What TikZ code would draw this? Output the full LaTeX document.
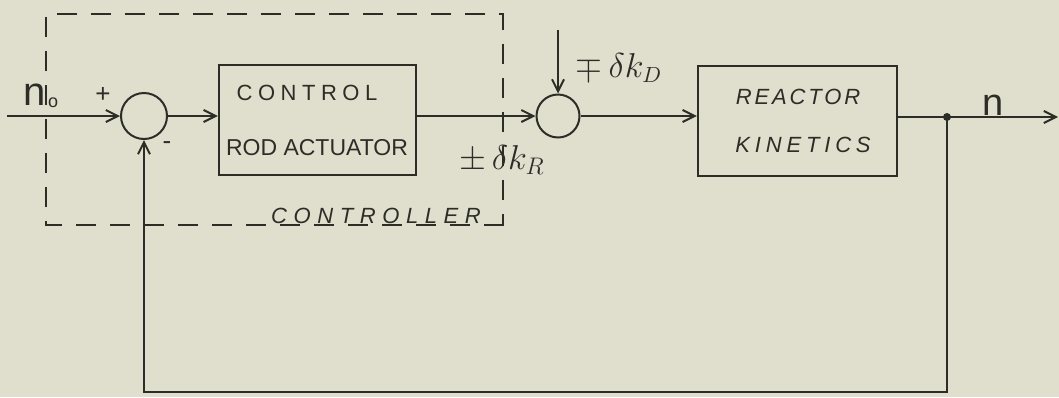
\documentclass[tikz,border=0pt]{standalone}
\usepackage{fontspec}
\setmainfont{Liberation Sans}
\usetikzlibrary{arrows.meta}
\definecolor{paper}{RGB}{224,222,204}
\definecolor{ink}{RGB}{45,45,40}
\tikzset{
  wire/.style={draw=ink, line width=1pt},
  arr/.style={wire, -{Straight Barb[length=6pt,width=6pt,line width=1pt]}},
  sumnode/.style={circle, draw=ink, line width=1pt, inner sep=0pt},
  blk/.style={rectangle, draw=ink, line width=1.2pt, inner sep=0pt},
  lbl/.style={text=ink, inner sep=0pt, font=\fontsize{11}{11}\selectfont},
  ctrlbox/.style={draw=ink, line width=1pt, dash pattern=on 10pt off 7pt},
}
\begin{document}
\begin{tikzpicture}[x=0.5pt,y=-0.5pt]
\fill[paper] (0,0) rectangle (1059,397);
\useasboundingbox (0,0) rectangle (1059,397);

% controller dashed box
\draw[ctrlbox] (494,225) -- (503,225) -- (503,14) -- (46,14) -- (46,225) -- (494,225);
\node[lbl, anchor=base, font=\fontsize{11}{11}\selectfont\itshape\addfontfeature{LetterSpace=30}] (ctl) at (376,223) {CONTROLLER};

% summing junctions and blocks
\node[sumnode, minimum size=23pt] (s1) at (144,116) {};
\node[sumnode, minimum size=21.5pt] (s2) at (558,116) {};
\node[blk, minimum width=98.5pt, minimum height=55pt] (b1) at (317.5,120) {};
\node[blk, minimum width=99.5pt, minimum height=55pt] (b2) at (797.5,121) {};

\node[lbl, font=\fontsize{11}{11}\selectfont\addfontfeature{LetterSpace=25}] (t1) at (307,93) {CONTROL};
\node[lbl, font=\fontsize{11.5}{11.5}\selectfont] (t2) at (317,148) {ROD ACTUATOR};
\node[lbl, font=\fontsize{11}{11}\selectfont\itshape\addfontfeature{LetterSpace=13}] (t3) at (798,97) {REACTOR};
\node[lbl, font=\fontsize{11}{11}\selectfont\itshape\addfontfeature{LetterSpace=22}] (t4) at (803,145) {KINETICS};

% coordinates
\coordinate (in) at (7,116);
\coordinate (j) at (947,117);
\coordinate (out) at (1058,117);
\coordinate (bot) at (947,392);
\coordinate (d) at (558,30);

% connectors
\draw[arr] (in) -- (s1);
\draw[arr] (s1) -- (s1 -| b1.west);
\draw[arr] (b1.east |- s1) -- (s2);
\draw[arr] (s2) -- (s2 -| b2.west);
\draw[wire] (b2.east |- j) -- (j);
\draw[arr] (j) -- (out);
\draw[arr] (j) -- (bot) -- (s1 |- bot) -- (s1);
\draw[arr] (d) -- (s2);
\fill[ink] (j) circle (2pt);

% signal labels
\node[lbl, font=\fontsize{20}{20}\selectfont] (n0) at (41,96) {n\kern1pt\raisebox{-1pt}{\fontsize{9}{9}\selectfont o}};
\node[lbl, font=\fontsize{13}{13}\selectfont] (plus) at (103,95) {+};
\node[lbl, font=\fontsize{13}{13}\selectfont] (minus) at (167,146) {-};
\node[lbl, font=\fontsize{18}{18}\selectfont] (dkr) at (502,160) {$\pm\,\delta k_R$};
\node[lbl, font=\fontsize{16}{16}\selectfont] (dkd) at (619,68) {$\mp\,\delta k_D$};
\node[lbl, font=\fontsize{19}{19}\selectfont] (n) at (993,105) {n};
\end{tikzpicture}
\end{document}
